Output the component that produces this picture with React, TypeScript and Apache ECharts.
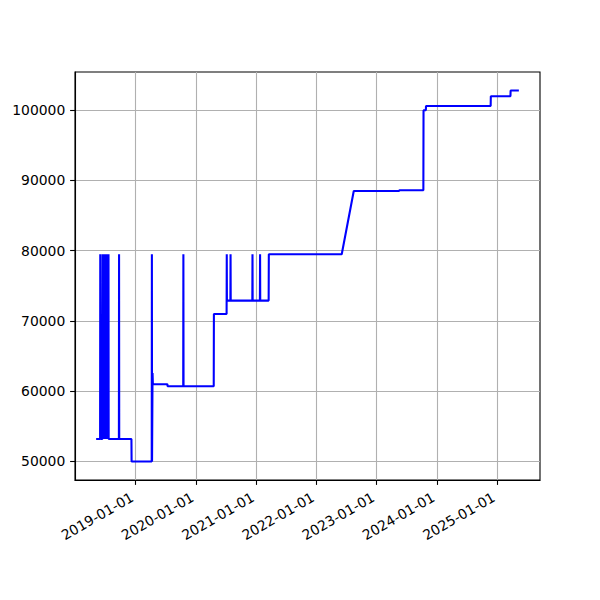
import React, { useEffect, useRef } from "react";
import * as echarts from "echarts";

// Step-like time series (dates and values)
const dates: string[] = [
  "2018-05-06", "2018-05-30", "2018-05-31", "2018-06-02", "2018-06-03",
  "2018-06-13", "2018-06-14", "2018-06-16", "2018-06-18", "2018-06-20",
  "2018-06-22", "2018-06-24", "2018-06-26", "2018-06-28", "2018-06-30",
  "2018-07-02", "2018-07-04", "2018-07-06", "2018-07-08", "2018-07-10",
  "2018-07-12", "2018-07-14", "2018-07-16", "2018-07-18", "2018-07-20",
  "2018-07-21", "2018-09-21", "2018-09-22", "2018-09-23", "2018-12-06",
  "2018-12-07", "2019-04-08", "2019-04-09", "2019-04-10", "2019-04-12",
  "2019-04-13", "2019-04-15", "2019-07-12", "2019-07-13", "2019-10-16",
  "2019-10-17", "2019-10-18", "2020-04-18", "2020-04-19", "2020-07-05",
  "2020-07-06", "2020-07-07", "2020-07-28", "2020-07-29", "2020-07-30",
  "2020-12-08", "2020-12-09", "2020-12-10", "2021-01-23", "2021-01-24",
  "2021-01-25", "2021-03-17", "2021-03-18", "2022-06-03", "2022-08-15",
  "2023-05-17", "2023-05-18", "2023-10-11", "2023-10-12", "2023-10-26",
  "2023-10-27", "2024-11-22", "2024-11-23", "2025-03-22", "2025-03-23",
  "2025-05-12",
];

const values: number[] = [
  53200, 53200, 79500, 79500, 53200,
  53200, 79500, 53200, 79500, 53200,
  79500, 53200, 79500, 53200, 79500,
  53200, 79500, 53200, 79500, 53200,
  79500, 53200, 79500, 53200, 79500,
  53200, 53200, 79500, 53200, 53200,
  50000, 50000, 79500, 50000, 50000,
  62600, 61000, 61000, 60700, 60700,
  79500, 60700, 60700, 71000, 71000,
  79500, 72900, 72900, 79500, 72900,
  72900, 79500, 72900, 72900, 79500,
  72900, 72900, 79500, 79500, 88500,
  88500, 88600, 88600, 100000, 100000,
  100600, 100600, 102000, 102000, 102800,
  102800,
];

const xTickLabels: string[] = [
  "2019-01-01", "2020-01-01", "2021-01-01", "2022-01-01",
  "2023-01-01", "2024-01-01", "2025-01-01",
];
const yTickValues: number[] = [50000, 60000, 70000, 80000, 90000, 100000];

export default function App() {
  const ref = useRef<HTMLDivElement>(null);

  useEffect(() => {
    if (!ref.current) return;
    const chart = echarts.init(ref.current, null, { renderer: "svg" });

    const data = dates.map((d, i) => [Date.parse(d), values[i]]);
    const xs = data.map((p) => p[0]);
    const ys = data.map((p) => p[1]);
    const xMinD = Math.min(...xs);
    const xMaxD = Math.max(...xs);
    const yMinD = Math.min(...ys);
    const yMaxD = Math.max(...ys);
    const xPad = (xMaxD - xMinD) * 0.05;
    const yPad = (yMaxD - yMinD) * 0.05;
    const xTicks = xTickLabels.map((s) => Date.parse(s));

    const font = { fontFamily: "DejaVu Sans", fontSize: 13.9, color: "#000" };
    const tickLen = 4.9;

    chart.setOption({
      animation: false,
      grid: {
        left: 75,
        right: 60,
        top: 72,
        bottom: 120,
        show: true,
        borderColor: "#000",
        borderWidth: 1.1,
        backgroundColor: "transparent",
      },
      xAxis: {
        type: "value",
        scale: true,
        min: xMinD - xPad,
        max: xMaxD + xPad,
        axisLine: { show: true, onZero: false, lineStyle: { color: "#000", width: 1.1 } },
        axisTick: {
          show: true,
          length: tickLen,
          lineStyle: { color: "#000", width: 1.1 },
          customValues: xTicks,
        },
        axisLabel: {
          ...font,
          rotate: 30,
          margin: 22,
          align: "right",
          verticalAlign: "bottom",
          customValues: xTicks,
          formatter: (v: number) => new Date(v).toISOString().slice(0, 10),
        },
        splitLine: {
          show: true,
          lineStyle: { color: "#b0b0b0", width: 1.1 },
          customValues: xTicks,
        },
      },
      yAxis: {
        type: "value",
        scale: true,
        min: yMinD - yPad,
        max: yMaxD + yPad,
        axisLine: { show: true, onZero: false, lineStyle: { color: "#000", width: 1.1 } },
        axisTick: {
          show: true,
          length: tickLen,
          lineStyle: { color: "#000", width: 1.1 },
          customValues: yTickValues,
        },
        axisLabel: {
          ...font,
          margin: 9.7,
          customValues: yTickValues,
          formatter: (v: number) => String(v),
        },
        splitLine: {
          show: true,
          lineStyle: { color: "#b0b0b0", width: 1.1 },
          customValues: yTickValues,
        },
      },
      series: [
        {
          type: "line",
          data,
          showSymbol: false,
          symbol: "none",
          lineStyle: { color: "#0000ff", width: 2.08 },
          itemStyle: { color: "#0000ff" },
        },
      ],
    });

    return () => chart.dispose();
  }, []);

  return (
    <div
      ref={ref}
      style={{ position: "fixed", left: 0, top: 0, width: 600, height: 600, background: "#fff" }}
    />
  );
}
